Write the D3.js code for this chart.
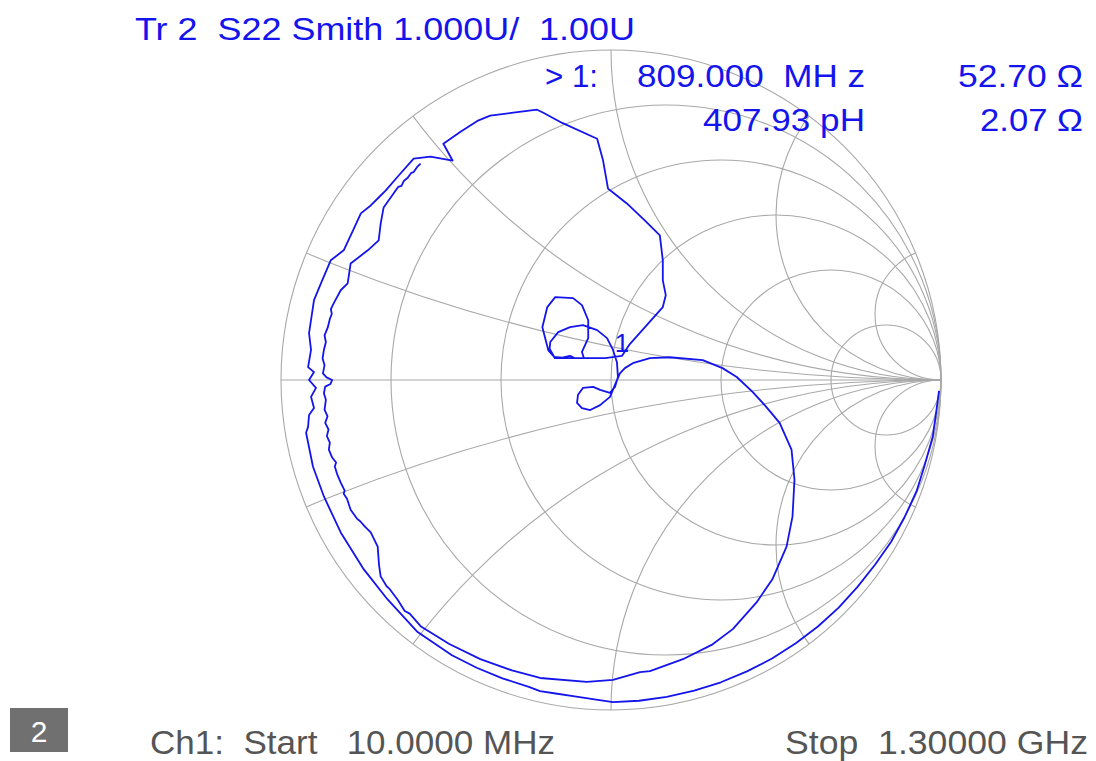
<!DOCTYPE html>
<html>
<head>
<meta charset="utf-8">
<script src="https://cdn.jsdelivr.net/npm/d3@7"></script>
<style>
body { margin: 0; background: #fff; }
text { white-space: pre; }
</style>
</head>
<body>
<div id="chart"></div>
<script>
// smith grid values
var resistances = [0.2, 0.5, 1, 2, 5];
var reactances = [0.2, 0.5, 1, 2, 5, -0.2, -0.5, -1, -2, -5];

// header / footer texts
var title = "Tr 2  S22 Smith 1.000U/  1.00U";
var markerLabel = "> 1:";
var markerFreq = "809.000  MH z";
var markerRe = "52.70 \u03A9";
var markerL = "407.93 pH";
var markerIm = "2.07 \u03A9";
var channelNum = "2";
var startText = "Ch1:  Start   10.0000 MHz";
var stopText = "Stop  1.30000 GHz";

// marker 1 at 809 MHz (reflection coefficient, re / im)
var marker1 = [0.027, 0.020];

// S22 trace, reflection coefficient [re, im], 10 MHz -> 1.3 GHz
var s22 = [
  [0.994,-0.033],[0.985,-0.100],[0.975,-0.172],[0.950,-0.260],[0.926,-0.337],
  [0.890,-0.415],[0.849,-0.490],[0.800,-0.560],[0.747,-0.627],[0.690,-0.690],
  [0.627,-0.747],[0.560,-0.798],[0.488,-0.844],[0.412,-0.883],[0.333,-0.916],
  [0.252,-0.941],[0.169,-0.960],[0.085,-0.972],[0.006,-0.976],[-0.060,-0.966],
  [-0.115,-0.958],[-0.168,-0.950],[-0.215,-0.943],[-0.249,-0.930],[-0.329,-0.904],
  [-0.407,-0.872],[-0.482,-0.834],[-0.586,-0.764],[-0.677,-0.665],[-0.749,-0.574],
  [-0.819,-0.462],[-0.870,-0.353],[-0.903,-0.263],[-0.924,-0.160],[-0.918,-0.142],
  [-0.915,-0.106],[-0.900,-0.085],[-0.909,-0.051],[-0.894,-0.024],[-0.915,0.000],
  [-0.900,0.024],[-0.918,0.039],[-0.909,0.091],[-0.915,0.142],[-0.900,0.242],
  [-0.879,0.293],[-0.849,0.363],[-0.810,0.393],[-0.782,0.453],[-0.758,0.505],
  [-0.728,0.529],[-0.704,0.553],[-0.683,0.574],[-0.644,0.619],[-0.598,0.671],
  [-0.547,0.677],[-0.480,0.665],[-0.508,0.716],[-0.456,0.752],[-0.405,0.785],
  [-0.366,0.801],[-0.296,0.810],[-0.224,0.819],[-0.205,0.810],[-0.148,0.779],
  [-0.042,0.731],[-0.024,0.665],[-0.009,0.580],[0.006,0.568],[0.048,0.535],
  [0.103,0.483],[0.148,0.438],[0.157,0.363],[0.157,0.302],[0.166,0.257],
  [0.157,0.221],[0.103,0.160],[0.057,0.109],[0.033,0.073],[-0.018,0.066],
  [-0.109,0.066],[-0.124,0.073],[-0.148,0.068],[-0.172,0.070],[-0.190,0.090],
  [-0.208,0.160],[-0.193,0.221],[-0.169,0.251],[-0.115,0.248],[-0.088,0.227],
  [-0.069,0.181],[-0.069,0.127],[-0.088,0.085],[-0.082,0.066],[-0.170,0.066],
  [-0.186,0.095],[-0.184,0.115],[-0.160,0.145],[-0.124,0.160],[-0.085,0.166],
  [-0.042,0.151],[-0.012,0.127],[0.006,0.091],[0.018,0.054],[0.021,0.009],
  [0.012,-0.021],[-0.003,-0.039],[-0.033,-0.030],[-0.054,-0.021],[-0.085,-0.024],
  [-0.100,-0.045],[-0.103,-0.069],[-0.088,-0.085],[-0.063,-0.091],[-0.033,-0.076],
  [-0.003,-0.051],[0.012,-0.015],[0.027,0.020],[0.042,0.036],[0.066,0.051],
  [0.118,0.066],[0.178,0.069],[0.278,0.060],[0.338,0.036],[0.381,0.009],
  [0.429,-0.036],[0.471,-0.082],[0.511,-0.130],[0.547,-0.211],[0.556,-0.302],
  [0.550,-0.414],[0.532,-0.505],[0.489,-0.604],[0.441,-0.674],[0.369,-0.755],
  [0.308,-0.801],[0.218,-0.846],[0.118,-0.882],[0.088,-0.885],[0.006,-0.909],
  [-0.073,-0.915],[-0.215,-0.903],[-0.300,-0.880],[-0.396,-0.846],[-0.490,-0.800],
  [-0.577,-0.746],[-0.610,-0.708],[-0.625,-0.700],[-0.647,-0.665],[-0.672,-0.632],
  [-0.680,-0.625],[-0.698,-0.595],[-0.703,-0.560],[-0.707,-0.505],[-0.728,-0.462],
  [-0.745,-0.445],[-0.760,-0.428],[-0.770,-0.420],[-0.789,-0.393],[-0.800,-0.360],
  [-0.810,-0.345],[-0.807,-0.335],[-0.819,-0.311],[-0.830,-0.285],[-0.837,-0.262],
  [-0.833,-0.250],[-0.845,-0.235],[-0.855,-0.211],[-0.852,-0.190],[-0.861,-0.170],
  [-0.856,-0.150],[-0.866,-0.130],[-0.859,-0.110],[-0.868,-0.090],[-0.864,-0.060],
  [-0.870,-0.040],[-0.866,-0.020],[-0.850,-0.012],[-0.845,0.000],[-0.862,0.008],
  [-0.873,0.020],[-0.868,0.045],[-0.874,0.065],[-0.870,0.091],[-0.864,0.115],
  [-0.868,0.135],[-0.858,0.160],[-0.852,0.185],[-0.846,0.200],[-0.849,0.215],
  [-0.840,0.233],[-0.819,0.272],[-0.798,0.293],[-0.789,0.353],[-0.737,0.393],
  [-0.704,0.423],[-0.698,0.474],[-0.689,0.523],[-0.659,0.565],[-0.645,0.585],
  [-0.635,0.588],[-0.628,0.603],[-0.616,0.613],[-0.605,0.628],[-0.598,0.630],
  [-0.588,0.645],[-0.577,0.656]
];

var width = 1096, height = 761;
var blue = "#1414ec";
var gridColor = "#a8a8a8";
var font = "'Liberation Sans', Arial, sans-serif";

var svg = d3.select("#chart").append("svg")
    .attr("width", width)
    .attr("height", height);

var x = d3.scaleLinear().domain([-1, 1]).range([281, 941]);
var y = d3.scaleLinear().domain([-1, 1]).range([710, 50]);
var unit = x(1) - x(0);

svg.append("defs").append("clipPath")
    .attr("id", "unit-clip")
    .append("circle")
    .attr("cx", x(0))
    .attr("cy", y(0))
    .attr("r", unit);

var grid = svg.append("g")
    .attr("fill", "none")
    .attr("stroke", gridColor)
    .attr("stroke-width", 1.1);

grid.append("circle")
    .attr("cx", x(0))
    .attr("cy", y(0))
    .attr("r", unit);

grid.append("line")
    .attr("x1", x(-1)).attr("x2", x(1))
    .attr("y1", y(0)).attr("y2", y(0));

grid.selectAll(".rcircle")
    .data(resistances)
    .enter().append("circle")
    .attr("class", "rcircle")
    .attr("cx", function(r) { return x(r / (r + 1)); })
    .attr("cy", y(0))
    .attr("r", function(r) { return unit / (r + 1); });

grid.append("g")
    .attr("clip-path", "url(#unit-clip)")
    .selectAll(".xarc")
    .data(reactances)
    .enter().append("circle")
    .attr("class", "xarc")
    .attr("cx", x(1))
    .attr("cy", function(v) { return y(1 / v); })
    .attr("r", function(v) { return unit / Math.abs(v); });

var line = d3.line()
    .x(function(d) { return x(d[0]); })
    .y(function(d) { return y(d[1]); });

svg.append("path")
    .datum(s22)
    .attr("d", line)
    .attr("fill", "none")
    .attr("stroke", blue)
    .attr("stroke-width", 1.8)
    .attr("stroke-linejoin", "round");

svg.append("text")
    .attr("x", x(marker1[0]) + 2)
    .attr("y", y(marker1[1]) - 21)
    .attr("text-anchor", "middle")
    .attr("font-family", font)
    .attr("font-size", 26)
    .attr("fill", blue)
    .text("1");

function label(txt, x0, x1, base, size, color) {
    svg.append("text")
        .attr("x", x0)
        .attr("y", base)
        .attr("font-family", font)
        .attr("font-size", size)
        .attr("fill", color)
        .attr("textLength", x1 - x0)
        .attr("lengthAdjust", "spacingAndGlyphs")
        .text(txt);
}

label(title, 135, 635, 40, 32, blue);
label(markerLabel, 545, 598, 87, 32, blue);
label(markerFreq, 637, 865, 87, 32, blue);
label(markerRe, 958, 1083, 87, 32, blue);
label(markerL, 703, 865, 131, 32, blue);
label(markerIm, 980, 1083, 131, 32, blue);

svg.append("rect")
    .attr("x", 10).attr("y", 708)
    .attr("width", 58).attr("height", 44)
    .attr("fill", "#707070");

svg.append("text")
    .attr("x", 39).attr("y", 742)
    .attr("text-anchor", "middle")
    .attr("font-family", font)
    .attr("font-size", 30)
    .attr("fill", "#fff")
    .text(channelNum);

label(startText, 150, 555, 754, 33, "#555");
label(stopText, 785, 1088, 754, 33, "#555");
</script>
</body>
</html>
